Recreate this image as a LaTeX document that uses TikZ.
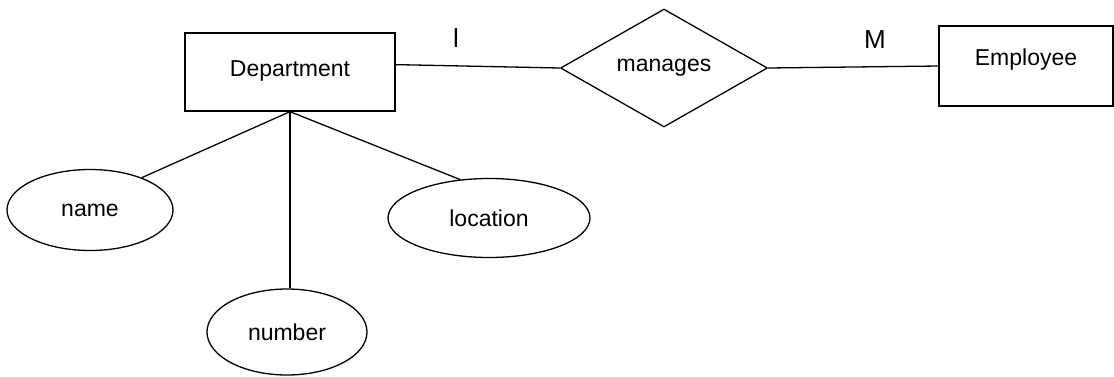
\documentclass[tikz,border=0pt]{standalone}
\usepackage{fontspec}
\setmainfont{Liberation Sans}
\usetikzlibrary{shapes.geometric}
\begin{document}
\begin{tikzpicture}[x=1pt,y=-1pt,
  every node/.style={font=\fontsize{23}{26}\selectfont, inner sep=0pt},
  entity/.style={draw, line width=1.3pt, rectangle},
  relation/.style={draw, line width=1.3pt, diamond},
  attr/.style={draw, line width=1.3pt, ellipse},
  conn/.style={line width=1.3pt},
  card/.style={font=\fontsize{26}{30}\selectfont}]
\useasboundingbox (0,0) rectangle (1114,376);
\fill[white] (0,0) rectangle (1114,376);
\node[entity, minimum width=210, minimum height=78, text height=16.5pt, text depth=8pt] (dept) at (290,72) {Department};
\node[entity, minimum width=174, minimum height=80, text height=16.5pt, text depth=18pt] (emp) at (1026,66) {Employee};
\node[relation, minimum width=207, minimum height=118] (rel) at (664,68) {manages};
\node[attr, minimum width=166, minimum height=81] (name) at (90,210) {name};
\node[attr, minimum width=202, minimum height=79] (loc) at (489,218) {location};
\node[attr, minimum width=160, minimum height=86] (num) at (287,332) {number};
\node[card] (one) at (456,38) {l};
\node[card] (many) at (875,40) {M};
\draw[conn] (dept.4) -- (rel.west);
\draw[conn] (rel.east) -- (emp.west);
\draw[conn] (dept.south) -- (name.32);
\draw[conn] (dept.south) -- (dept.south |- num.north);
\draw[conn] (dept.south) -- (loc.127);
\end{tikzpicture}
\end{document}
